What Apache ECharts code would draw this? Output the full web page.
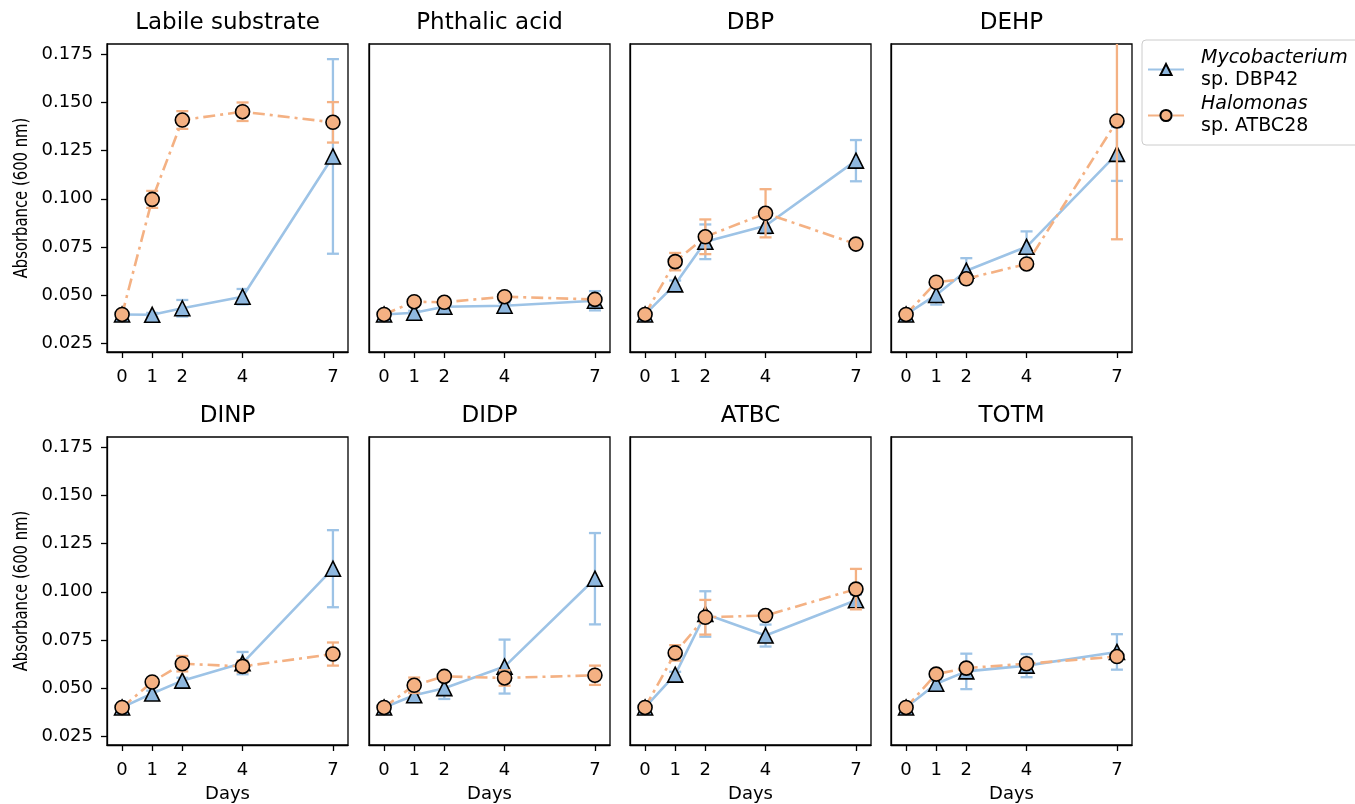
<!DOCTYPE html>
<html>
<head>
<meta charset="utf-8">
<script src="https://cdn.jsdelivr.net/npm/echarts@6/dist/echarts.min.js"></script>
<style>
  html, body { margin: 0; padding: 0; background: #fff; }
  #chart { width: 1355px; height: 804px; }
</style>
</head>
<body>
<div id="chart"></div>
<script>
const days = [0, 1, 2, 4, 7];
const yTicks = [0.025, 0.05, 0.075, 0.1, 0.125, 0.15, 0.175];
const panels = ['Labile substrate', 'Phthalic acid', 'DBP', 'DEHP', 'DINP', 'DIDP', 'ATBC', 'TOTM'];

// Mycobacterium sp. DBP42, one row per panel
const mycoMean = [
  [0.040, 0.0398, 0.0432, 0.0492, 0.1220],
  [0.040, 0.0409, 0.0440, 0.0445, 0.0471],
  [0.040, 0.0556, 0.0777, 0.0860, 0.1198],
  [0.040, 0.0501, 0.0627, 0.0751, 0.1233],
  [0.040, 0.0472, 0.0539, 0.0630, 0.1120],
  [0.040, 0.0463, 0.0500, 0.0612, 0.1068],
  [0.040, 0.0570, 0.0885, 0.0773, 0.0956],
  [0.040, 0.0523, 0.0587, 0.0617, 0.0688]
];
const mycoErr = [
  [0.001, 0.001, 0.0043, 0.004, 0.0505],
  [0.001, 0.001, 0.0015, 0.0015, 0.005],
  [0.001, 0.002, 0.009, 0.004, 0.0107],
  [0.001, 0.005, 0.0065, 0.008, 0.014],
  [0.001, 0.0015, 0.0015, 0.0058, 0.020],
  [0.001, 0.0015, 0.0056, 0.014, 0.0237],
  [0.001, 0.0015, 0.0118, 0.0057, 0.003],
  [0.001, 0.0015, 0.0092, 0.006, 0.0092]
];

// Halomonas sp. ATBC28
const haloMean = [
  [0.040, 0.0997, 0.1409, 0.1452, 0.1397],
  [0.040, 0.0466, 0.0463, 0.0492, 0.0478],
  [0.040, 0.0674, 0.0803, 0.0925, 0.0765],
  [0.040, 0.0567, 0.0585, 0.0662, 0.1404],
  [0.040, 0.0532, 0.0627, 0.0613, 0.0677],
  [0.040, 0.0515, 0.0561, 0.0553, 0.0567],
  [0.040, 0.0683, 0.0868, 0.0877, 0.1014],
  [0.040, 0.0573, 0.0604, 0.0627, 0.0664]
];
const haloErr = [
  [0.001, 0.0044, 0.0046, 0.0048, 0.0105],
  [0.001, 0.0015, 0.0015, 0.0015, 0.0015],
  [0.001, 0.0045, 0.009, 0.0125, 0.0015],
  [0.001, 0.0015, 0.0015, 0.0015, 0.0614],
  [0.001, 0.0015, 0.004, 0.003, 0.006],
  [0.001, 0.004, 0.0015, 0.004, 0.005],
  [0.001, 0.004, 0.009, 0.0015, 0.0105],
  [0.001, 0.0015, 0.0015, 0.0015, 0.0015]
];

const MYCO = 'Mycobacterium sp. DBP42';
const HALO = 'Halomonas sp. ATBC28';
const blue = '#9DC3E6';
const blueFill = '#8FB8DF';
const orange = '#F4B183';
const font = '"DejaVu Sans", sans-serif';

const colLeft = [107, 369, 630, 891];
const rowTop = [44, 437];
const gw = 241, gh = 308;

const grid = [], xAxis = [], yAxis = [], series = [], graphic = [];

function errSeries(i, name, means, errs, color, z) {
  return {
    type: 'custom',
    name: name + ' error',
    xAxisIndex: i,
    yAxisIndex: i,
    z: z,
    silent: true,
    data: days.map((d, k) => [d, means[k] - errs[k], means[k] + errs[k]]),
    encode: { x: 0, y: [1, 2] },
    renderItem(params, api) {
      const cs = params.coordSys;
      const x = api.value(0);
      const lo = api.coord([x, api.value(1)]);
      const hi = api.coord([x, api.value(2)]);
      const top = Math.max(hi[1], cs.y);
      const bot = Math.min(lo[1], cs.y + cs.height);
      const style = { stroke: color, lineWidth: 2.3 };
      const kids = [{ type: 'line', shape: { x1: lo[0], y1: top, x2: lo[0], y2: bot }, style }];
      if (hi[1] >= cs.y) kids.push({ type: 'line', shape: { x1: hi[0] - 6, y1: hi[1], x2: hi[0] + 6, y2: hi[1] }, style });
      if (lo[1] <= cs.y + cs.height) kids.push({ type: 'line', shape: { x1: lo[0] - 6, y1: lo[1], x2: lo[0] + 6, y2: lo[1] }, style });
      return { type: 'group', children: kids };
    }
  };
}

const tickStyle = { color: '#000', width: 1.3 };

panels.forEach((title, i) => {
  const col = i % 4, row = Math.floor(i / 4);
  grid.push({
    left: colLeft[col], top: rowTop[row], width: gw, height: gh,
    show: true, borderColor: '#000', borderWidth: 1.3, backgroundColor: 'transparent'
  });
  xAxis.push({
    type: 'value', gridIndex: i, min: -0.5, max: 7.5,
    splitLine: { show: false },
    axisLine: { show: true, onZero: false, lineStyle: tickStyle },
    axisTick: { show: true, inside: false, customValues: days, length: 6, lineStyle: tickStyle },
    axisLabel: { customValues: days, fontSize: 18, color: '#000', margin: 16, fontFamily: font },
    name: row === 1 ? 'Days' : '',
    nameLocation: 'middle', nameGap: 40,
    nameTextStyle: { fontSize: 18, color: '#000', fontFamily: font }
  });
  yAxis.push({
    type: 'value', gridIndex: i, min: 0.0205, max: 0.18035,
    splitLine: { show: false },
    axisLine: { show: true, onZero: false, lineStyle: tickStyle },
    axisTick: { show: col === 0, inside: false, customValues: yTicks, length: 6, lineStyle: tickStyle },
    axisLabel: { show: col === 0, customValues: yTicks, fontSize: 18, color: '#000', margin: 14, fontFamily: font,
      formatter: v => v.toFixed(3) }
  });
  series.push(errSeries(i, MYCO, mycoMean[i], mycoErr[i], blue, 1));
  series.push({
    type: 'line', name: MYCO, xAxisIndex: i, yAxisIndex: i, z: 2,
    data: days.map((d, k) => [d, mycoMean[i][k]]),
    symbol: 'triangle', symbolSize: 15,
    itemStyle: { color: blueFill, borderColor: '#000', borderWidth: 1.6 },
    lineStyle: { color: blue, width: 2.6 },
    color: blue
  });
  series.push(errSeries(i, HALO, haloMean[i], haloErr[i], orange, 3));
  series.push({
    type: 'line', name: HALO, xAxisIndex: i, yAxisIndex: i, z: 4,
    data: days.map((d, k) => [d, haloMean[i][k]]),
    symbol: 'circle', symbolSize: 14,
    itemStyle: { color: orange, borderColor: '#000', borderWidth: 1.6 },
    lineStyle: { color: orange, width: 2.6, type: [12, 5, 3, 5] },
    color: orange
  });
  graphic.push({
    type: 'text', x: colLeft[col] + gw / 2, y: rowTop[row] - 21,
    style: { text: title, textAlign: 'center', textVerticalAlign: 'middle', fontSize: 23, fill: '#000', fontFamily: font }
  });
  if (col === 0) {
    // narrow-looking y label: squeeze along the text direction
    graphic.push({
      type: 'text', x: 22, y: rowTop[row] + gh / 2, rotation: Math.PI / 2, scaleX: 0.78,
      style: { text: 'Absorbance (600 nm)', textAlign: 'center', textVerticalAlign: 'middle', fontSize: 19, fill: '#000', fontFamily: font }
    });
  }
});

const chart = echarts.init(document.getElementById('chart'));
chart.setOption({
  animation: false,
  backgroundColor: '#fff',
  textStyle: { fontFamily: font },
  grid, xAxis, yAxis, series, graphic,
  legend: {
    data: [MYCO, HALO],
    orient: 'vertical',
    left: 1142, top: 40,
    padding: [9, 40, 9, 5],
    itemWidth: 36, itemHeight: 14, itemGap: 5,
    borderColor: '#ccc', borderWidth: 1, borderRadius: 4,
    backgroundColor: '#fff',
    formatter: name => {
      const parts = name.split(' sp. ');
      return '{i|' + parts[0] + '}\n{n|sp. ' + parts[1] + '}';
    },
    textStyle: {
      color: '#000',
      rich: {
        i: { fontStyle: 'italic', fontSize: 19, lineHeight: 22, color: '#000', fontFamily: font, padding: [0, 0, 0, 12] },
        n: { fontSize: 19, lineHeight: 22, color: '#000', fontFamily: font, padding: [0, 0, 0, 12] }
      }
    }
  }
});
window.addEventListener('resize', chart.resize);
</script>
</body>
</html>
